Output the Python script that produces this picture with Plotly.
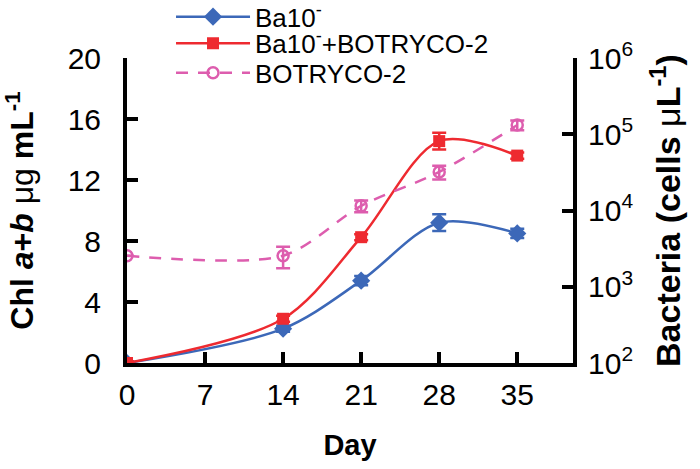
import plotly.graph_objects as go

days = [0, 14, 21, 28, 35]
ba10 = [0.0, 2.25, 5.4, 9.2, 8.5]
ba10_err = [0.1, 0.2, 0.3, 0.55, 0.3]
ba10_botryco = [0.0, 2.9, 8.25, 14.55, 13.6]
ba10_botryco_err = [0.1, 0.2, 0.2, 0.55, 0.2]
botryco_bact = [2550, 2550, 11500, 32000, 132000]
botryco_bact_err = [0, 800, 2000, 6500, 19000]

x_ticks = [0, 7, 14, 21, 28, 35]
y_ticks = [0, 4, 8, 12, 16, 20]
y2_ticks = [1e2, 1e3, 1e4, 1e5, 1e6]
y2_labels = ["10<sup>2</sup>", "10<sup>3</sup>", "10<sup>4</sup>", "10<sup>5</sup>", "10<sup>6</sup>"]

BLUE = "#3C68B8"
RED = "#EE2A30"
PINK = "#DD5DAE"
FONT = "Liberation Sans"

fig = go.Figure()
fig.add_trace(go.Scatter(
    x=days, y=ba10, name="Ba10<sup>-</sup>", mode="lines+markers", legend="legend",
    line=dict(color=BLUE, width=2.5, shape="spline", smoothing=0.9),
    marker=dict(symbol="diamond", size=14, color=BLUE),
    error_y=dict(type="data", array=ba10_err, color=BLUE, thickness=2.5, width=7),
))
fig.add_trace(go.Scatter(
    x=days, y=ba10_botryco, name="Ba10<sup>-</sup>+BOTRYCO-2", mode="lines+markers",
    legend="legend2",
    line=dict(color=RED, width=2.5, shape="spline", smoothing=0.9),
    marker=dict(symbol="square", size=12, color=RED),
    error_y=dict(type="data", array=ba10_botryco_err, color=RED, thickness=2.5, width=7),
))
fig.add_trace(go.Scatter(
    x=days, y=botryco_bact, name="BOTRYCO-2", mode="lines+markers", yaxis="y2",
    legend="legend3",
    line=dict(color=PINK, width=2.5, shape="spline", smoothing=0.8, dash="12px,10px"),
    marker=dict(symbol="circle-open", size=11, color=PINK, line=dict(width=2.5)),
    error_y=dict(type="data", array=botryco_bact_err, color=PINK, thickness=2.5, width=7),
))

axis_common = dict(showline=True, linecolor="black", linewidth=4, ticks="inside",
                   ticklen=11, tickwidth=4, tickcolor="black", showgrid=False,
                   zeroline=False, automargin=False,
                   tickfont=dict(size=30, color="black", family=FONT))

legend_common = dict(x=0.0987, xanchor="left", yanchor="middle",
                     bgcolor="rgba(0,0,0,0)", font=dict(size=26, family=FONT),
                     itemwidth=74, borderwidth=0)

fig.update_layout(
    width=700, height=469,
    margin=dict(l=127, r=127, t=58, b=106, autoexpand=False),
    plot_bgcolor="white", paper_bgcolor="white",
    font=dict(family=FONT, color="black"),
    xaxis=dict(range=[0, 40], tickvals=x_ticks, ticklabelstandoff=2, **axis_common,
               title=dict(text="<b>Day</b>", font=dict(size=29), standoff=26)),
    yaxis=dict(range=[0, 20], tickvals=y_ticks, ticklabelstandoff=16, **axis_common,
               title=dict(text="<b>Chl <i>a</i>+<i>b</i></b> μg <b>mL<sup>-1</sup></b>",
                          font=dict(size=32), standoff=27)),
    yaxis2=dict(type="log", range=[2, 6], tickvals=y2_ticks, ticktext=y2_labels,
                ticklabelstandoff=5, overlaying="y", side="right", **axis_common,
                title=dict(text="<b>Bacteria (cells</b> μ<b>L<sup>-1</sup>)</b>",
                           font=dict(size=34), standoff=25)),
    legend=dict(y=1.135, **legend_common),
    legend2=dict(y=1.048, **legend_common),
    legend3=dict(y=0.951, **legend_common),
    showlegend=True,
)

fig.write_html("out.html", config={"displayModeBar": False},
               post_script="document.body.style.margin='0px';")
